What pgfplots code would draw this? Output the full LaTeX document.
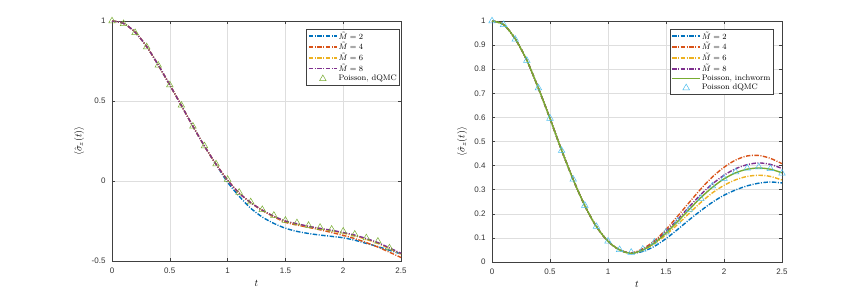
\documentclass[border=0pt]{standalone}
\usepackage{fontspec}
\setsansfont{Liberation Sans}
\usepackage{pgfplots}
\pgfplotsset{compat=1.18}
\definecolor{mlblue}{rgb}{0,0.447,0.741}
\definecolor{mlred}{rgb}{0.85,0.325,0.098}
\definecolor{mlyellow}{rgb}{0.929,0.694,0.125}
\definecolor{mlpurple}{rgb}{0.494,0.184,0.556}
\definecolor{mlgreen}{rgb}{0.466,0.674,0.188}
\definecolor{mlcyan}{rgb}{0.301,0.745,0.933}
\pgfplotsset{
 mystyle/.style={
  scale only axis, xmin=0, xmax=2.5, clip=false,
  axis line style={black!75, line width=0.5pt},
  tick style={black!75, line width=0.5pt},
  major tick length=3pt, tick align=inside,
  xtick pos=both, ytick pos=both,
  grid=major, major grid style={black!13, line width=0.5pt},
  tick label style={font=\sffamily\fontsize{8}{9}\selectfont, text=black!80},
  xticklabel style={yshift=-3pt},
  yticklabel style={xshift=-3pt},
  xtick={0,0.5,1,1.5,2,2.5}, xticklabels={0,0.5,1,1.5,2,2.5},
  xlabel={$t$}, ylabel={$\langle\hat\sigma_z(t)\rangle$},
  label style={font=\fontsize{10}{11}\selectfont},
  x label style={at={(axis description cs:0.5,-0.092)}, anchor=center},
  legend cell align=left,
  legend style={draw=black!75, line width=0.5pt, fill=white, font=\fontsize{8}{9}\selectfont, anchor=north east, inner sep=1.5pt, row sep=0pt, nodes={inner sep=1pt}},
  legend image code/.code={\draw[mark repeat=2,mark phase=2,##1] plot coordinates {(0pt,0pt)(14pt,0pt)(28pt,0pt)};},
  dd/.style={line width=1.4pt, smooth, no marks, dash pattern=on 4.5pt off 1.5pt on 1pt off 1.5pt},
 }
}
\begin{document}
\begin{tikzpicture}
\path[use as bounding box] (0,0) rectangle (864pt,295pt);
\begin{axis}[mystyle, at={(112pt,34pt)}, anchor=south west, width=289pt, height=240pt,
  ymin=-0.5, ymax=1, ytick={-0.5,0,0.5,1}, yticklabels={-0.5,0,0.5,1},
  y label style={at={(axis description cs:-0.114,0.5)}, anchor=center},
  legend style={at={(0.995,0.967)}}]
\addplot[dd, color=mlblue] coordinates {(0,1)(0.1,0.985)(0.2,0.93)(0.3,0.84)(0.4,0.725)(0.5,0.6)(0.6,0.472)(0.7,0.342)(0.8,0.218)(0.9,0.103)(1.0,-0.008)(1.1,-0.095)(1.2,-0.17)(1.3,-0.225)(1.4,-0.265)(1.5,-0.295)(1.6,-0.315)(1.7,-0.328)(1.8,-0.338)(1.9,-0.346)(2.0,-0.355)(2.1,-0.37)(2.2,-0.39)(2.3,-0.41)(2.4,-0.433)(2.5,-0.456)};
\addlegendentry{$\tilde M=2$}
\addplot[dd, color=mlred] coordinates {(0,1)(0.1,0.985)(0.2,0.93)(0.3,0.84)(0.4,0.725)(0.5,0.6)(0.6,0.472)(0.7,0.342)(0.8,0.218)(0.9,0.105)(1.0,0.005)(1.1,-0.075)(1.2,-0.136)(1.3,-0.184)(1.4,-0.224)(1.5,-0.258)(1.6,-0.275)(1.7,-0.29)(1.8,-0.305)(1.9,-0.322)(2.0,-0.34)(2.1,-0.36)(2.2,-0.385)(2.3,-0.413)(2.4,-0.445)(2.5,-0.478)};
\addlegendentry{$\tilde M=4$}
\addplot[dd, color=mlyellow] coordinates {(0,1)(0.1,0.985)(0.2,0.93)(0.3,0.84)(0.4,0.725)(0.5,0.6)(0.6,0.472)(0.7,0.342)(0.8,0.218)(0.9,0.105)(1.0,0.005)(1.1,-0.075)(1.2,-0.135)(1.3,-0.182)(1.4,-0.221)(1.5,-0.252)(1.6,-0.269)(1.7,-0.285)(1.8,-0.298)(1.9,-0.311)(2.0,-0.326)(2.1,-0.343)(2.2,-0.365)(2.3,-0.39)(2.4,-0.423)(2.5,-0.456)};
\addlegendentry{$\tilde M=6$}
\addplot[dd, color=mlpurple] coordinates {(0,1)(0.1,0.985)(0.2,0.93)(0.3,0.84)(0.4,0.725)(0.5,0.6)(0.6,0.472)(0.7,0.342)(0.8,0.218)(0.9,0.105)(1.0,0.005)(1.1,-0.075)(1.2,-0.135)(1.3,-0.182)(1.4,-0.22)(1.5,-0.25)(1.6,-0.267)(1.7,-0.283)(1.8,-0.296)(1.9,-0.308)(2.0,-0.322)(2.1,-0.338)(2.2,-0.36)(2.3,-0.385)(2.4,-0.418)(2.5,-0.452)};
\addlegendentry{$\tilde M=8$}
\addplot[only marks, mark=triangle, mark size=3.8pt, color=mlgreen, line width=0.5pt] coordinates {(0,1.0)(0.1,0.983)(0.2,0.927)(0.3,0.838)(0.4,0.723)(0.5,0.60)(0.6,0.473)(0.7,0.342)(0.8,0.219)(0.9,0.106)(1.0,0.01)(1.1,-0.071)(1.2,-0.131)(1.3,-0.179)(1.4,-0.215)(1.5,-0.246)(1.6,-0.262)(1.7,-0.278)(1.8,-0.29)(1.9,-0.302)(2.0,-0.314)(2.1,-0.333)(2.2,-0.356)(2.3,-0.377)(2.4,-0.419)};
\addlegendentry{Poisson, dQMC}
\end{axis}
\begin{axis}[mystyle, at={(492pt,33pt)}, anchor=south west, width=290pt, height=241pt,
  ymin=0, ymax=1, ytick={0,0.1,...,1.01}, yticklabels={0,0.1,0.2,0.3,0.4,0.5,0.6,0.7,0.8,0.9,1},
  y label style={at={(axis description cs:-0.103,0.5)}, anchor=center},
  legend style={at={(0.970,0.967)}}]
\addplot[dd, color=mlblue] coordinates {(0,1)(0.1,0.985)(0.2,0.926)(0.3,0.837)(0.4,0.721)(0.5,0.595)(0.6,0.464)(0.7,0.342)(0.8,0.234)(0.9,0.147)(1.0,0.086)(1.1,0.05)(1.2,0.036)(1.3,0.044)(1.4,0.065)(1.5,0.097)(1.6,0.135)(1.7,0.175)(1.8,0.213)(1.9,0.248)(2.0,0.277)(2.1,0.299)(2.2,0.316)(2.3,0.327)(2.4,0.332)(2.5,0.328)};
\addlegendentry{$\tilde M=2$}
\addplot[dd, color=mlred] coordinates {(0,1)(0.1,0.985)(0.2,0.926)(0.3,0.837)(0.4,0.721)(0.5,0.595)(0.6,0.464)(0.7,0.342)(0.8,0.234)(0.9,0.147)(1.0,0.086)(1.1,0.05)(1.2,0.038)(1.3,0.055)(1.4,0.088)(1.5,0.135)(1.6,0.19)(1.7,0.247)(1.8,0.303)(1.9,0.353)(2.0,0.393)(2.1,0.423)(2.2,0.44)(2.3,0.442)(2.4,0.43)(2.5,0.408)};
\addlegendentry{$\tilde M=4$}
\addplot[dd, color=mlyellow] coordinates {(0,1)(0.1,0.985)(0.2,0.926)(0.3,0.837)(0.4,0.721)(0.5,0.595)(0.6,0.464)(0.7,0.342)(0.8,0.234)(0.9,0.147)(1.0,0.086)(1.1,0.05)(1.2,0.036)(1.3,0.049)(1.4,0.076)(1.5,0.113)(1.6,0.156)(1.7,0.202)(1.8,0.247)(1.9,0.287)(2.0,0.318)(2.1,0.341)(2.2,0.355)(2.3,0.36)(2.4,0.355)(2.5,0.34)};
\addlegendentry{$\tilde M=6$}
\addplot[dd, color=mlpurple] coordinates {(0,1)(0.1,0.985)(0.2,0.926)(0.3,0.837)(0.4,0.721)(0.5,0.595)(0.6,0.464)(0.7,0.342)(0.8,0.234)(0.9,0.147)(1.0,0.086)(1.1,0.05)(1.2,0.037)(1.3,0.052)(1.4,0.082)(1.5,0.126)(1.6,0.176)(1.7,0.229)(1.8,0.28)(1.9,0.324)(2.0,0.36)(2.1,0.387)(2.2,0.404)(2.3,0.411)(2.4,0.405)(2.5,0.388)};
\addlegendentry{$\tilde M=8$}
\addplot[line width=1.4pt, smooth, no marks, color=mlgreen] coordinates {(0,1)(0.1,0.985)(0.2,0.926)(0.3,0.837)(0.4,0.721)(0.5,0.595)(0.6,0.464)(0.7,0.342)(0.8,0.234)(0.9,0.147)(1.0,0.086)(1.1,0.05)(1.2,0.036)(1.3,0.05)(1.4,0.079)(1.5,0.12)(1.6,0.168)(1.7,0.218)(1.8,0.267)(1.9,0.31)(2.0,0.345)(2.1,0.37)(2.2,0.385)(2.3,0.39)(2.4,0.385)(2.5,0.37)};
\addlegendentry{Poisson, inchworm}
\addplot[only marks, mark=triangle, mark size=3.8pt, color=mlcyan, line width=0.5pt] coordinates {(0,1.0)(0.1,0.985)(0.2,0.924)(0.3,0.836)(0.4,0.722)(0.5,0.596)(0.6,0.4625)(0.7,0.343)(0.8,0.235)(0.9,0.147)(1.0,0.086)(1.1,0.051)(1.2,0.040)(1.3,0.053)(1.4,0.082)(1.5,0.124)(1.6,0.169)(1.7,0.218)(1.8,0.264)(1.9,0.315)(2.0,0.347)(2.1,0.374)(2.2,0.389)(2.3,0.394)(2.4,0.3875)(2.5,0.368)};
\addlegendentry{Poisson dQMC}
\end{axis}
\end{tikzpicture}
\end{document}
